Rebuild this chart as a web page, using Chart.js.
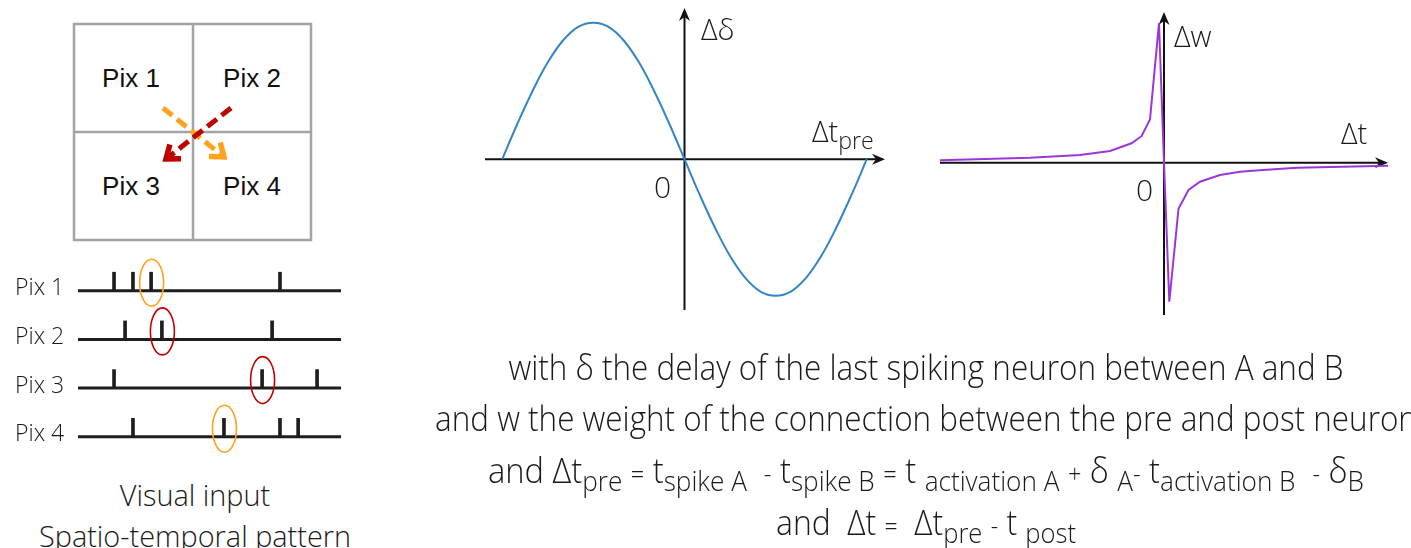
<!DOCTYPE html>
<html>
<head>
<meta charset="utf-8">
<script src="https://cdn.jsdelivr.net/npm/chart.js@4.4.1/dist/chart.umd.min.js"></script>
<style>
    html, body { margin: 0; padding: 0; background: #fff; }
    body { width: 1411px; height: 548px; position: relative; overflow: hidden;
           font-family: 'Open Sans', 'Noto Sans', sans-serif; font-weight: 300; color: #1a1a1a; }
    canvas { position: absolute; }
    .lbl { position: absolute; white-space: nowrap; line-height: 40px; height: 40px; }
    .line { position: absolute; left: 0; width: 1852px; text-align: center; white-space: nowrap;
            font-size: 35px; line-height: 44px; height: 44px; transform-origin: 926px 50%; }
    .cap { position: absolute; left: 0; width: 390px; text-align: center; white-space: nowrap;
           font-size: 30px; line-height: 40px; height: 40px; transform-origin: 195px 50%; }
    .s { font-size: 0.8em; position: relative; top: 0.3em; }
    .o { font-size: 0.72em; }
    .pix { position: absolute; font-family: 'Liberation Sans', Arial, sans-serif; font-weight: 400;
           font-size: 26px; line-height: 30px; height: 30px; width: 120px; text-align: center; color: #111; }
</style>
</head>
<body>

<!-- pixel grid + arrows -->
<svg width="340" height="250" style="position:absolute;left:0;top:0">
    <defs>
        <marker id="headO" markerUnits="userSpaceOnUse" markerWidth="26" markerHeight="26" refX="15" refY="11" orient="auto">
            <path d="M3,2 L15,11 L3,20" fill="none" stroke="#ffa21c" stroke-width="5.5" stroke-linejoin="miter"/>
        </marker>
        <marker id="headR" markerUnits="userSpaceOnUse" markerWidth="26" markerHeight="26" refX="15" refY="11" orient="auto">
            <path d="M3,2 L15,11 L3,20" fill="none" stroke="#c00000" stroke-width="5.5" stroke-linejoin="miter"/>
        </marker>
    </defs>
    <rect x="74" y="24" width="237" height="216" fill="none" stroke="#a3a3a3" stroke-width="2.5"/>
    <line x1="193" y1="24" x2="193" y2="240" stroke="#a3a3a3" stroke-width="2.5"/>
    <line x1="74" y1="132" x2="311" y2="132" stroke="#a3a3a3" stroke-width="2.5"/>
    <line x1="163" y1="108" x2="224" y2="157" stroke="#ffa21c" stroke-width="5" stroke-dasharray="12 6" marker-end="url(#headO)"/>
    <line x1="231" y1="108" x2="166" y2="159" stroke="#c00000" stroke-width="5" stroke-dasharray="12 6" marker-end="url(#headR)"/>
</svg>
<div class="pix" style="left:71px;top:63px">Pix 1</div>
<div class="pix" style="left:192px;top:63px">Pix 2</div>
<div class="pix" style="left:71px;top:171px">Pix 3</div>
<div class="pix" style="left:192px;top:171px">Pix 4</div>

<canvas id="spikes" width="350" height="216" style="left:0;top:256px"></canvas>
<div class="cap" id="cap1" style="top:475px"><span>Visual input</span></div>
<div class="cap" id="cap2" style="top:516px"><span>Spatio-temporal pattern</span></div>

<canvas id="delay" width="412" height="314" style="left:479px;top:2px"></canvas>
<div class="lbl" style="left:701px;top:9px;font-size:29px">Δδ</div>
<div class="lbl" style="left:812px;top:111px;font-size:29px">Δt<span class="s">pre</span></div>
<div class="lbl" style="left:654px;top:167px;font-size:30px">0</div>

<canvas id="stdp" width="460" height="315" style="left:934px;top:6px"></canvas>
<div class="lbl" style="left:1174px;top:16px;font-size:29px">Δw</div>
<div class="lbl" style="left:1341px;top:113px;font-size:29px">Δt</div>
<div class="lbl" style="left:1136px;top:170px;font-size:30px">0</div>

<div class="line" id="l1" style="top:345px"><span>with δ the delay of the last spiking neuron between A and B</span></div>
<div class="line" id="l2" style="top:396px"><span>and w the weight of the connection between the pre and post neuron</span></div>
<div class="line" id="l3" style="top:448px"><span>and Δt<span class="s">pre</span> <span class="o">=</span> t<span class="s">spike A</span>&nbsp; <span class="o">-</span> t<span class="s">spike B</span> <span class="o">=</span> t <span class="s">activation A</span> <span class="o">+</span> δ <span class="s">A</span><span class="o">-</span> t<span class="s">activation B</span>&nbsp; <span class="o">-</span> δ<span class="s">B</span></span></div>
<div class="line" id="l4" style="top:500px"><span>and&nbsp; Δt <span class="o">=</span>&nbsp; Δt<span class="s">pre</span> <span class="o">-</span> t <span class="s">post</span></span></div>

<script>
// ---- data ----
const pixels = ['Pix 1', 'Pix 2', 'Pix 3', 'Pix 4'];
// spike times per pixel (0..100 along the time line)
const spikeTimes = [
    [13.7, 20.9, 27.8, 76.8],
    [17.9, 31.9, 73.8],
    [13.7, 70.0, 90.9],
    [20.9, 55.5, 76.8, 83.7]
];
// circled spikes: [pixel index, spike index]
const circledO = [[0, 2], [3, 1]];
const circledR = [[1, 1], [2, 1]];

// delay learning curve
const delayX = [-180, -165, -150, -135, -120, -105, -90, -75, -60, -45, -30, -15, 0,
                15, 30, 45, 60, 75, 90, 105, 120, 135, 150, 165, 180];
const delayY = [0, 0.26, 0.5, 0.71, 0.87, 0.97, 1, 0.97, 0.87, 0.71, 0.5, 0.26, 0,
                -0.26, -0.5, -0.71, -0.87, -0.97, -1, -0.97, -0.87, -0.71, -0.5, -0.26, 0];

// weight (STDP) curve
const stdpX = [-44.8, -26.8, -16.8, -10.8, -6.5, -4.5, -2.8, -1.0, 0, 1.06, 2.9, 4.9, 7.2, 11.2, 15.2, 19.8, 26.6, 44.8];
const stdpY = [0.017, 0.036, 0.055, 0.084, 0.139, 0.19, 0.31, 1.0, 0, -0.995, -0.33, -0.195, -0.136, -0.088, -0.064, -0.052, -0.036, -0.021];

const ORANGE = '#ffa21c';
const RED = '#c00000';
const SPIKE_H = 0.38;

Chart.defaults.animation = false;
Chart.defaults.events = [];
Chart.defaults.plugins.legend.display = false;
Chart.defaults.plugins.tooltip.enabled = false;

function arrowHead(ctx, x, y, dir) {
    const L = 13, W = 5.5, N = 4;
    ctx.beginPath();
    if (dir === 'right') {
        ctx.moveTo(x, y); ctx.lineTo(x - L, y - W); ctx.lineTo(x - L + N, y); ctx.lineTo(x - L, y + W);
    } else {
        ctx.moveTo(x, y); ctx.lineTo(x - W, y + L); ctx.lineTo(x, y + L - N); ctx.lineTo(x + W, y + L);
    }
    ctx.closePath();
    ctx.fill();
}

// cross-shaped axes through the origin with arrowheads
const crossAxes = {
    id: 'crossAxes',
    beforeDatasetsDraw(chart) {
        const { ctx, chartArea: a, scales: { x, y } } = chart;
        const x0 = x.getPixelForValue(0), y0 = y.getPixelForValue(0);
        ctx.save();
        ctx.strokeStyle = '#111';
        ctx.fillStyle = '#111';
        ctx.lineWidth = 2;
        ctx.beginPath();
        ctx.moveTo(a.left, y0); ctx.lineTo(a.right - 6, y0);
        ctx.moveTo(x0, a.bottom); ctx.lineTo(x0, a.top + 6);
        ctx.stroke();
        arrowHead(ctx, a.right, y0, 'right');
        arrowHead(ctx, x0, a.top, 'up');
        ctx.restore();
    }
};

function curveChart(id, xs, ys, color, tension, xr, yr) {
    return new Chart(document.getElementById(id), {
        type: 'line',
        data: {
            datasets: [{
                data: xs.map((v, i) => ({ x: v, y: ys[i] })),
                borderColor: color,
                borderWidth: 2,
                pointRadius: 0,
                tension: tension,
                clip: false
            }]
        },
        options: {
            responsive: false,
            layout: { padding: 6 },
            scales: {
                x: { type: 'linear', min: xr[0], max: xr[1], display: false },
                y: { type: 'linear', min: yr[0], max: yr[1], display: false }
            }
        },
        plugins: [crossAxes]
    });
}

curveChart('delay', delayX, delayY, '#3584c6', 0.4, [-197, 198], [-1.105, 1.108]);
curveChart('stdp', stdpX, stdpY, '#9b37d8', 0, [-44.8, 44.8], [-1.09, 1.079]);

// ---- spike raster ----
const rowOf = i => pixels.length - 1 - i;

const rasterDecor = {
    id: 'rasterDecor',
    afterDatasetsDraw(chart) {
        const { ctx, scales: { x, y } } = chart;
        ctx.save();
        ctx.lineWidth = 1.6;
        [[circledO, ORANGE], [circledR, RED]].forEach(([list, col]) => {
            ctx.strokeStyle = col;
            list.forEach(([p, s]) => {
                const px = x.getPixelForValue(spikeTimes[p][s]);
                const py = y.getPixelForValue(rowOf(p)) - 8;
                ctx.beginPath();
                ctx.ellipse(px + 0.5, py, 12, 23.5, 0, 0, Math.PI * 2);
                ctx.stroke();
            });
        });
        ctx.fillStyle = '#1a1a1a';
        ctx.font = '300 23px "Open Sans", sans-serif';
        ctx.textBaseline = 'middle';
        pixels.forEach((name, i) => {
            ctx.fillText(name, 15, y.getPixelForValue(rowOf(i)) - 2);
        });
        ctx.restore();
    }
};

const spikeBars = [];
spikeTimes.forEach((ts, i) => ts.forEach(t => spikeBars.push({ x: t, y: [rowOf(i), rowOf(i) + SPIKE_H] })));

new Chart(document.getElementById('spikes'), {
    type: 'bar',
    data: {
        datasets: [
            {
                data: spikeBars,
                backgroundColor: '#1e1e1e',
                barThickness: 3,
                grouped: false
            },
            ...pixels.map((p, i) => ({
                type: 'line',
                data: [{ x: 0, y: rowOf(i) }, { x: 100, y: rowOf(i) }],
                borderColor: '#1e1e1e',
                borderWidth: 3,
                pointRadius: 0,
                clip: false
            }))
        ]
    },
    options: {
        responsive: false,
        layout: { padding: { left: 78, right: 9, top: 5, bottom: 5 } },
        scales: {
            x: { type: 'linear', min: 0, max: 100, offset: false, display: false },
            y: { type: 'linear', min: -0.62, max: 3.61, display: false }
        }
    },
    plugins: [rasterDecor]
});

// ---- squeeze text to the widths seen in the picture ----
function fit(ids, refId, target) {
    const w = document.querySelector('#' + refId + ' > span').getBoundingClientRect().width;
    const k = target / w;
    ids.forEach(id => { document.getElementById(id).style.transform = 'scaleX(' + k + ')'; });
}
fit(['l1', 'l2'], 'l1', 835);
fit(['l3'], 'l3', 876);
fit(['l4'], 'l4', 300);
fit(['cap1', 'cap2'], 'cap2', 312);
</script>
</body>
</html>
